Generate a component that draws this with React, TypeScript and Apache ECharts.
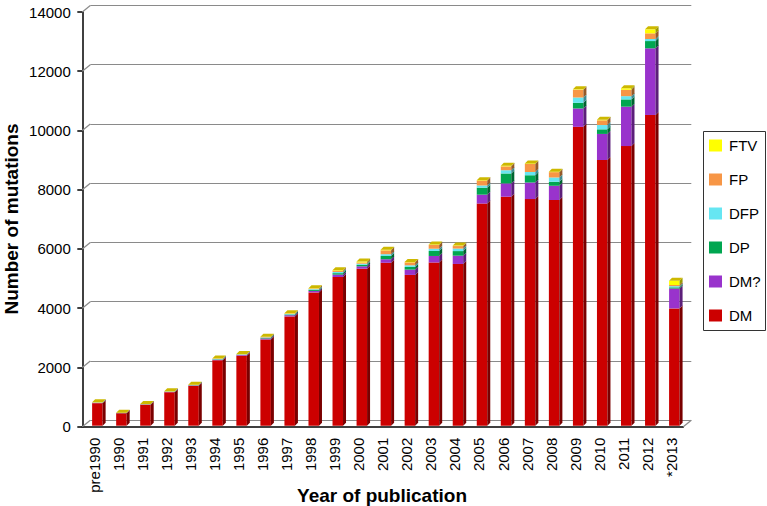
import React, { useEffect, useRef } from "react";
import * as echarts from "echarts";

const categories = [
  "pre1990", "1990", "1991", "1992", "1993", "1994", "1995", "1996", "1997", "1998",
  "1999", "2000", "2001", "2002", "2003", "2004", "2005", "2006", "2007", "2008",
  "2009", "2010", "2011", "2012", "*2013",
];

const DM = [760, 420, 710, 1130, 1350, 2210, 2360, 2910, 3690, 4500, 5020, 5300, 5500, 5090, 5510, 5460, 7500, 7730, 7650, 7620, 10090, 8970, 9440, 10490, 3960];
const DMq = [10, 5, 8, 10, 10, 20, 25, 35, 40, 50, 80, 80, 120, 180, 220, 280, 300, 450, 560, 480, 620, 880, 1330, 2250, 670];
const DP = [5, 5, 5, 8, 8, 12, 12, 20, 25, 35, 50, 50, 110, 90, 170, 155, 235, 335, 245, 135, 190, 155, 245, 245, 40];
const DFP = [5, 3, 5, 5, 6, 10, 10, 15, 15, 25, 40, 40, 60, 55, 75, 85, 75, 110, 110, 145, 180, 145, 110, 70, 40];
const FP = [5, 3, 3, 5, 6, 8, 8, 15, 15, 20, 40, 40, 130, 100, 125, 85, 165, 130, 270, 180, 260, 160, 215, 190, 40];
const FTV = [5, 4, 4, 5, 4, 5, 5, 10, 10, 10, 20, 30, 20, 15, 15, 15, 15, 20, 20, 15, 15, 15, 50, 135, 140];

const yTicks = [0, 2000, 4000, 6000, 8000, 10000, 12000, 14000];

const seriesDefs = [
  { name: "DM", values: DM, front: "#CC0000", side: "#7A0000" },
  { name: "DM?", values: DMq, front: "#9933CC", side: "#5C1F7A" },
  { name: "DP", values: DP, front: "#00A650", side: "#006430" },
  { name: "DFP", values: DFP, front: "#66E6F2", side: "#3D8A91" },
  { name: "FP", values: FP, front: "#F79646", side: "#94592A" },
  { name: "FTV", values: FTV, front: "#FFFF00", side: "#999900" },
];

const FONT = "'Liberation Sans', Arial, Helvetica, sans-serif";

export default function App() {
  const ref = useRef<HTMLDivElement>(null);
  useEffect(() => {
    document.body.style.margin = "0";
    if (!ref.current) return;
    const chart = echarts.init(ref.current, undefined, { renderer: "svg" });

    const cum = categories.map(() => 0);
    const barSeries = seriesDefs.map((def, k) => {
      const data = categories.map((_, i) => {
        const s = cum[i];
        const e = s + def.values[i];
        cum[i] = e;
        return [i, s, e];
      });
      const isTop = k === seriesDefs.length - 1;
      return {
        type: "custom",
        name: def.name,
        xAxisIndex: 0,
        yAxisIndex: 0,
        itemStyle: { color: def.front },
        encode: { x: 0, y: [1, 2] },
        data,
        renderItem: (params: any, api: any) => {
          const i = api.value(0);
          const s = api.value(1);
          const e = api.value(2);
          const pb = api.coord([i, s]);
          const pt = api.coord([i, e]);
          const c = pb[0];
          const x0 = c - 2.2;
          const x1 = c + 8.3;
          const yb = pb[1] - 1;
          const yt = pt[1] - 1;
          const dx = 3;
          const dy = 3;
          const children: any[] = [
            {
              type: "rect",
              shape: { x: x0, y: yt, width: x1 - x0, height: Math.max(0, yb - yt) },
              style: { fill: def.front },
            },
            {
              type: "polygon",
              shape: { points: [[x1, yb], [x1, yt], [x1 + dx, yt - dy], [x1 + dx, yb - dy]] },
              style: { fill: def.side },
            },
          ];
          if (isTop) {
            children.push({
              type: "polygon",
              shape: { points: [[x0, yt], [x1, yt], [x1 + dx, yt - dy], [x0 + dx, yt - dy]] },
              style: { fill: "#CDB800" },
            });
          }
          return { type: "group", children };
        },
      };
    });

    const slantSeries = {
      type: "custom",
      name: "slants",
      xAxisIndex: 0,
      yAxisIndex: 0,
      silent: true,
      data: yTicks.map((v) => [0, v]),
      encode: { x: 0, y: 1 },
      renderItem: (params: any, api: any) => {
        const v = api.value(1);
        const p = api.coord([0, v]);
        const x = params.coordSys.x;
        const children: any[] = [
          {
            type: "line",
            shape: { x1: x, y1: p[1], x2: x + 8, y2: p[1] - 6.5 },
            style: { stroke: "#8a8a8a", lineWidth: 1.2 },
          },
        ];
        if (v === 0) {
          const xr = x + params.coordSys.width;
          children.push({
            type: "line",
            shape: { x1: xr, y1: p[1], x2: xr + 8, y2: p[1] - 6.5 },
            style: { stroke: "#8a8a8a", lineWidth: 1.2 },
          });
        }
        return { type: "group", children };
      },
    };

    const option: any = {
      animation: false,
      color: seriesDefs.map((d) => d.front),
      grid: [
        { left: 82.3, right: 767 - 683.3, top: 12, bottom: 506 - 426.7 },
        { left: 90.3, right: 767 - 691.3, top: 5.5, bottom: 506 - 420.2 },
      ],
      xAxis: [
        {
          type: "category",
          gridIndex: 0,
          data: categories,
          axisLine: { lineStyle: { color: "#000", width: 1.5 } },
          axisTick: { length: 5, interval: 0, lineStyle: { color: "#000", width: 1.5 } },
          axisLabel: { rotate: 90, interval: 0, fontSize: 15, color: "#000", margin: 11, fontFamily: FONT },
          splitLine: { show: false },
        },
        {
          type: "category",
          gridIndex: 1,
          data: categories,
          show: false,
        },
      ],
      yAxis: [
        {
          type: "value",
          gridIndex: 0,
          min: 0,
          max: 14000,
          interval: 2000,
          axisLine: { show: true, lineStyle: { color: "#000", width: 1.5 } },
          axisTick: { show: true, length: 5, lineStyle: { color: "#000", width: 1.5 } },
          axisLabel: {
            fontSize: 15,
            color: "#000",
            margin: 11.5,
            fontFamily: FONT,
            formatter: (v: number) => String(v),
          },
          splitLine: { show: false },
        },
        {
          type: "value",
          gridIndex: 1,
          min: 0,
          max: 14000,
          interval: 2000,
          axisLine: { show: false },
          axisTick: { show: false },
          axisLabel: { show: false },
          splitLine: { show: true, lineStyle: { color: "#8a8a8a", width: 1.2 } },
        },
      ],
      legend: {
        orient: "vertical",
        left: 709,
        top: 138,
        padding: 0,
        itemWidth: 13,
        itemHeight: 12,
        itemGap: 19,
        icon: "rect",
        data: ["FTV", "FP", "DFP", "DP", "DM?", "DM"],
        textStyle: { fontSize: 15, lineHeight: 15, color: "#000", fontFamily: FONT, padding: [0, 0, 0, 2] },
      },
      graphic: [
        {
          type: "rect",
          shape: { x: 703.5, y: 131.5, width: 62, height: 199 },
          style: { fill: "none", stroke: "#333", lineWidth: 1 },
          silent: true,
        },
        {
          type: "text",
          x: 11,
          y: 219,
          rotation: Math.PI / 2,
          style: {
            text: "Number of mutations",
            font: `bold 19px ${FONT}`,
            fill: "#000",
            textAlign: "center",
            textVerticalAlign: "middle",
          },
        },
        {
          type: "text",
          x: 382,
          y: 495,
          style: {
            text: "Year of publication",
            font: `bold 19px ${FONT}`,
            fill: "#000",
            textAlign: "center",
            textVerticalAlign: "middle",
          },
        },
      ],
      series: [slantSeries, ...barSeries],
    };
    chart.setOption(option);
    return () => chart.dispose();
  }, []);
  return <div ref={ref} style={{ width: 767, height: 506 }} />;
}
